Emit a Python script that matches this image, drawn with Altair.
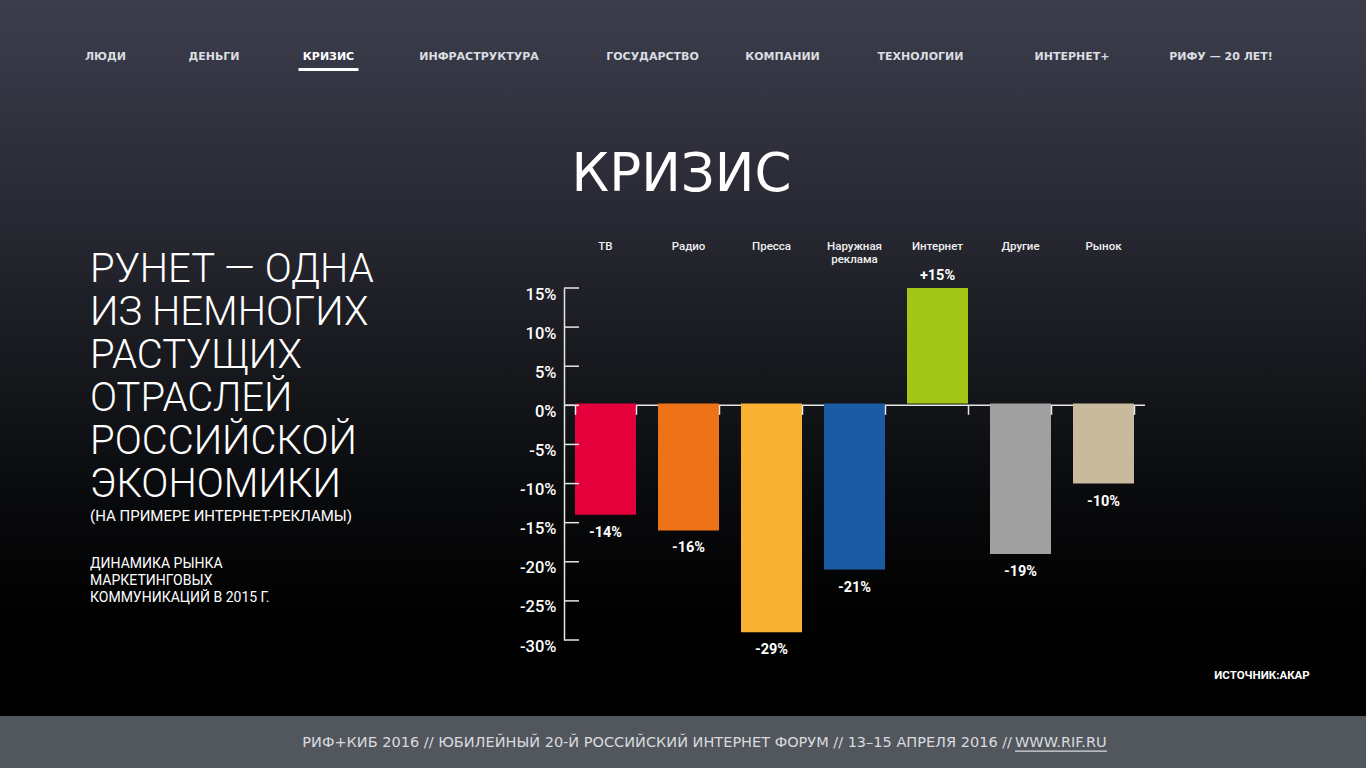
import altair as alt
import pandas as pd

# ---------------- data ----------------
categories = ["ТВ", "Радио", "Пресса", "Наружная\nреклама", "Интернет", "Другие", "Рынок"]
changes = [-14, -16, -29, -21, 15, -19, -10]
bar_colors = ["#E4003A", "#EE7318", "#F8B133", "#1A5BA3", "#A3C617", "#A0A0A0", "#C9BA9E"]
y_ticks = [-30, -25, -20, -15, -10, -5, 0, 5, 10, 15]

nav_items = ["ЛЮДИ", "ДЕНЬГИ", "КРИЗИС", "ИНФРАСТРУКТУРА", "ГОСУДАРСТВО",
             "КОМПАНИИ", "ТЕХНОЛОГИИ", "ИНТЕРНЕТ+", "РИФУ — 20 ЛЕТ!"]
active_nav = "КРИЗИС"
title_text = "КРИЗИС"
heading_lines = ["РУНЕТ — ОДНА", "ИЗ НЕМНОГИХ", "РАСТУЩИХ", "ОТРАСЛЕЙ",
                 "РОССИЙСКОЙ", "ЭКОНОМИКИ"]
subheading = "(НА ПРИМЕРЕ ИНТЕРНЕТ-РЕКЛАМЫ)"
caption_lines = ["ДИНАМИКА РЫНКА", "МАРКЕТИНГОВЫХ", "КОММУНИКАЦИЙ В 2015 Г."]
source_text = "ИСТОЧНИК:АКАР"
footer_text = "РИФ+КИБ 2016 // ЮБИЛЕЙНЫЙ 20-Й РОССИЙСКИЙ ИНТЕРНЕТ ФОРУМ // 13–15 АПРЕЛЯ 2016 // "
footer_link = "WWW.RIF.RU"

# ---------------- layout (pixels on the 1366x768 page) ----------------
PAGE_W, PAGE_H = 1366, 768
OX, OY = 564, 288          # plot origin
W, H = 581, 352            # plot size
Y_MIN, Y_MAX = -30, 15
nav_x = [105.5, 214, 328.5, 479, 652.5, 782.5, 920.5, 1072, 1221]
nav_baseline = 59.5
title_center, title_baseline = 681.5, 191
left_x = 90
heading_baseline0, heading_step = 282, 43.0
sub_baseline = 520.5
caption_baseline0, caption_step = 568.3, 16.7
source_center, source_baseline = 1262, 679
footer_top = 716
footer_baseline = 747
footer_split = 1012
link_width = 92
AXIS_COLOR = "#e6e6e6"


def px(v):
    return v - OX


def py(v):
    return v - OY


df = pd.DataFrame({"cat": categories, "v": changes, "color": bar_colors})
df["label"] = [("+" if v > 0 else "") + str(v) + "%" for v in changes]

xs = alt.Scale(domain=categories, paddingInner=0.265, paddingOuter=0.1325)
ys = alt.Scale(domain=[Y_MIN, Y_MAX], nice=False, zero=False)

one = pd.DataFrame({"a": [0]})

background = alt.Chart(one).mark_rect(
    fill={
        "gradient": "linear", "x1": 0, "y1": 0, "x2": 0, "y2": 1,
        "stops": [
            {"offset": 0.0, "color": "#3c3d4b"},
            {"offset": 0.08, "color": "#373846"},
            {"offset": 0.30, "color": "#262730"},
            {"offset": 0.52, "color": "#141519"},
            {"offset": 0.66, "color": "#08090b"},
            {"offset": 0.80, "color": "#010101"},
            {"offset": 1.0, "color": "#000000"},
        ],
    }
).encode(
    x=alt.value(px(0)), x2=alt.value(px(PAGE_W)),
    y=alt.value(py(0)), y2=alt.value(py(PAGE_H)),
)

footer_bg = alt.Chart(one).mark_rect(fill="#52565d").encode(
    x=alt.value(px(0)), x2=alt.value(px(PAGE_W)),
    y=alt.value(py(footer_top)), y2=alt.value(py(PAGE_H)),
)

zero_offset = -(H * (0 - Y_MIN) / (Y_MAX - Y_MIN))

# zero line drawn beneath the bars
zero_line = alt.Chart(one).mark_rule(color=AXIS_COLOR, strokeWidth=1.5).encode(
    y=alt.Y("z:Q", scale=ys, axis=None),
    x=alt.value(0), x2=alt.value(W),
).transform_calculate(z="0")

bars = alt.Chart(df).mark_bar().encode(
    x=alt.X("cat:N", scale=xs, sort=categories,
            axis=alt.Axis(orient="bottom", offset=zero_offset, zindex=1,
                          labels=False, title=None, tickBand="extent",
                          tickSize=9, tickColor=AXIS_COLOR, tickWidth=1.5,
                          domain=False, grid=False)),
    y=alt.Y("v:Q", scale=ys,
            axis=alt.Axis(values=y_ticks, labelExpr="datum.value + '%'", ticks=False,
                          zindex=1, grid=False, title=None,
                          domainColor=AXIS_COLOR, domainWidth=1.5,
                          labelColor="#ffffff", labelFont="Roboto", labelFontSize=16.5,
                          labelFontWeight=500, labelPadding=8, labelBaseline="alphabetic",
                          labelOffset=11)),
    y2=alt.datum(0.25),
    color=alt.Color("color:N", scale=None),
)

tick_df = pd.DataFrame({"t": y_ticks})
yticks = alt.Chart(tick_df).mark_rule(color=AXIS_COLOR, strokeWidth=1.5).encode(
    y=alt.Y("t:Q", scale=ys, axis=None),
    x=alt.value(0), x2=alt.value(15),
)

neg_labels = alt.Chart(df).transform_filter("datum.v < 0").mark_text(
    font="Roboto", fontWeight="bold", fontSize=14.5, color="#ffffff",
    baseline="middle", dy=18,
).encode(
    x=alt.X("cat:N", scale=xs, sort=categories, axis=None),
    y=alt.Y("v:Q", scale=ys, axis=None),
    text="label:N",
)
pos_labels = alt.Chart(df).transform_filter("datum.v > 0").mark_text(
    font="Roboto", fontWeight="bold", fontSize=14.5, color="#ffffff",
    baseline="middle", dy=-12,
).encode(
    x=alt.X("cat:N", scale=xs, sort=categories, axis=None),
    y=alt.Y("v:Q", scale=ys, axis=None),
    text="label:N",
)

cat_labels = alt.Chart(df).mark_text(
    font="Roboto", fontWeight=500, fontSize=11.5, color="#f0f0f0",
    baseline="alphabetic", lineBreak="\n", lineHeight=13,
).encode(
    x=alt.X("cat:N", scale=xs, sort=categories, axis=None),
    y=alt.value(py(249.5)),
    text="cat:N",
)


def text_layer(frame, **kw):
    return alt.Chart(frame).mark_text(**kw).encode(
        x=alt.X("x:Q", scale=None, axis=None),
        y=alt.Y("y:Q", scale=None, axis=None),
        text="t:N",
    )


nav_df = pd.DataFrame({"t": nav_items, "x": [px(v) for v in nav_x],
                       "y": [py(nav_baseline)] * len(nav_items)})
nav = text_layer(nav_df[nav_df.t != active_nav], font="DejaVu Sans", fontWeight="bold",
                 fontSize=11, color="#dcdde0", align="center", baseline="alphabetic")
nav_active = text_layer(nav_df[nav_df.t == active_nav], font="DejaVu Sans", fontWeight="bold",
                        fontSize=11, color="#ffffff", align="center", baseline="alphabetic")
active_x = nav_x[nav_items.index(active_nav)]
underline = alt.Chart(one).mark_rect(fill="#ffffff").encode(
    x=alt.value(px(active_x - 30)), x2=alt.value(px(active_x + 30)),
    y=alt.value(py(68)), y2=alt.value(py(71)),
)

title_df = pd.DataFrame({"t": [title_text], "x": [px(title_center)], "y": [py(title_baseline)]})
title = text_layer(title_df, font="DejaVu Sans", fontSize=53, color="#ffffff",
                   align="center", baseline="alphabetic")

head_df = pd.DataFrame({"t": heading_lines, "x": [px(left_x)] * len(heading_lines),
                        "y": [py(heading_baseline0 + i * heading_step) for i in range(len(heading_lines))]})
heading = text_layer(head_df, font="Roboto", fontWeight=300, fontSize=40, color="#ffffff",
                     align="left", baseline="alphabetic")

sub_df = pd.DataFrame({"t": [subheading], "x": [px(left_x)], "y": [py(sub_baseline)]})
sub = text_layer(sub_df, font="Roboto", fontSize=15, color="#ffffff",
                 align="left", baseline="alphabetic")

cap_df = pd.DataFrame({"t": caption_lines, "x": [px(left_x)] * len(caption_lines),
                       "y": [py(caption_baseline0 + i * caption_step) for i in range(len(caption_lines))]})
caption = text_layer(cap_df, font="Roboto", fontSize=14, color="#ffffff",
                     align="left", baseline="alphabetic")

src_df = pd.DataFrame({"t": [source_text], "x": [px(source_center)], "y": [py(source_baseline)]})
source = text_layer(src_df, font="Roboto", fontWeight="bold", fontSize=11.5, color="#ffffff",
                    align="center", baseline="alphabetic")

foot_df = pd.DataFrame({"t": [footer_text], "x": [px(footer_split)], "y": [py(footer_baseline)]})
footer = text_layer(foot_df, font="DejaVu Sans", fontSize=14.5, color="#d9dbdf",
                    align="right", baseline="alphabetic")
link_df = pd.DataFrame({"t": [footer_link], "x": [px(footer_split + 3)], "y": [py(footer_baseline)]})
link = text_layer(link_df, font="DejaVu Sans", fontSize=14.5, color="#d9dbdf",
                  align="left", baseline="alphabetic")
link_line = alt.Chart(one).mark_rect(fill="#d9dbdf").encode(
    x=alt.value(px(footer_split + 3)), x2=alt.value(px(footer_split + 3 + link_width)),
    y=alt.value(py(750.5)), y2=alt.value(py(751.7)),
)

chart = alt.layer(
    background, footer_bg, zero_line, bars, yticks, neg_labels, pos_labels, cat_labels,
    nav, nav_active, underline, title, heading, sub, caption, source,
    footer, link, link_line,
).resolve_axis(
    x="independent", y="independent",
).properties(
    width=W, height=H,
    padding={"left": OX, "top": OY, "right": PAGE_W - OX - W, "bottom": PAGE_H - OY - H},
    autosize=alt.AutoSizeParams(type="none"),
).configure(
    background="#000000",
).configure_view(strokeWidth=0)

chart.save("out.html", embed_options={"renderer": "svg", "actions": False})
